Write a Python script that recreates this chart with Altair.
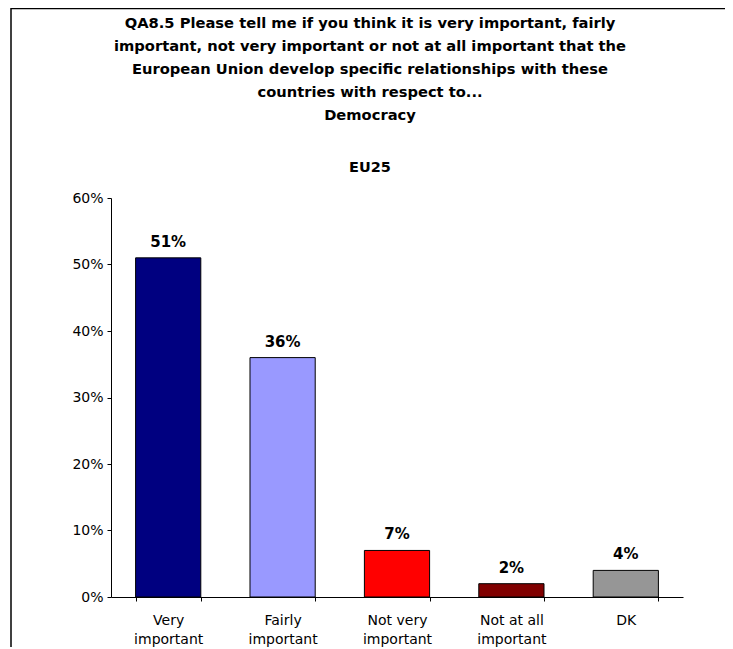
import altair as alt
import pandas as pd

categories = ["Very important", "Fairly important", "Not very important",
              "Not at all important", "DK"]
values = [0.51, 0.36, 0.07, 0.02, 0.04]
bar_labels = ["51%", "36%", "7%", "2%", "4%"]
colors = ["#000080", "#9999FF", "#FF0000", "#800000", "#969696"]
y_ticks = [0.0, 0.1, 0.2, 0.3, 0.4, 0.5, 0.6]
title_lines = [
    "QA8.5 Please tell me if you think it is very important, fairly",
    "important, not very important or not at all important that the",
    "European Union develop specific relationships with these",
    "countries with respect to...",
    "Democracy",
]
subtitle = "EU25"

df = pd.DataFrame({"cat": categories, "val": values, "label": bar_labels})

FONT = "DejaVu Sans"

x_enc = alt.X(
    "cat:N",
    sort=categories,
    scale=alt.Scale(paddingInner=0.43, paddingOuter=0.215),
    axis=alt.Axis(
        title=None,
        labelAngle=0,
        tickBand="extent",
        labelExpr="!datum.label ? '' : datum.label == 'DK' ? 'DK' : [replace(datum.label, ' important', ''), 'important']",
        labelFontSize=14,
        labelFont=FONT,
        labelColor="black",
        labelLineHeight=19,
        labelPadding=12,
        tickSize=4,
        tickColor="black",
        domainColor="black",
    ),
)
y_enc = alt.Y(
    "val:Q",
    scale=alt.Scale(domain=[0, 0.6], nice=False),
    axis=alt.Axis(
        title=None,
        values=y_ticks,
        format=".0%",
        grid=False,
        labelFontSize=14,
        labelFont=FONT,
        labelColor="black",
        labelPadding=4,
        tickSize=4,
        tickColor="black",
        domainColor="black",
    ),
)

bars = alt.Chart(df).mark_bar(stroke="black", strokeWidth=1).encode(
    x=x_enc,
    y=y_enc,
    color=alt.Color("cat:N", sort=categories,
                    scale=alt.Scale(domain=categories, range=colors), legend=None),
)

texts = alt.Chart(df).mark_text(
    baseline="alphabetic", dy=-11, fontSize=15, fontWeight="bold", font=FONT, color="black"
).encode(
    x=alt.X("cat:N", sort=categories),
    y="val:Q",
    text="label:N",
)

border_df = pd.DataFrame({"k": [0]})
left_line = alt.Chart(border_df).mark_rule(color="black", strokeWidth=1.5).encode(
    x=alt.value(-100), y=alt.value(-190), y2=alt.value(450)
)
top_line = alt.Chart(border_df).mark_rule(color="black", strokeWidth=1.5).encode(
    x=alt.value(-100), x2=alt.value(640), y=alt.value(-189.5)
)

chart = alt.layer(bars, texts, left_line, top_line).properties(
    width=572,
    height=399,
    autosize=alt.AutoSizeParams(type="none"),
    padding={"left": 103, "top": 190, "right": 42, "bottom": 50},
    title=alt.TitleParams(
        text=title_lines,
        subtitle=subtitle,
        anchor="middle",
        dx=-27,
        fontSize=14.7,
        fontWeight="bold",
        font=FONT,
        color="black",
        lineHeight=23,
        subtitleFontSize=14.5,
        subtitleFontWeight="bold",
        subtitleFont=FONT,
        subtitleColor="black",
        subtitlePadding=38,
        offset=-167,
    ),
).configure_view(stroke=None)

chart.save("out.html", embed_options={"renderer": "svg", "actions": False})
